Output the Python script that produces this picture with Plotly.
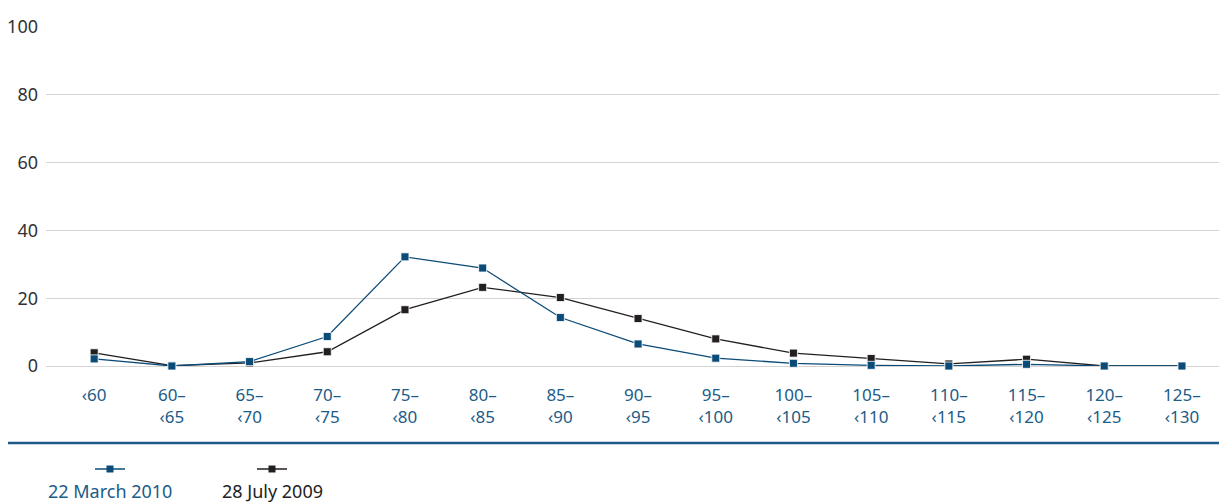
import plotly.graph_objects as go

categories = ["‹60", "60–<br>‹65", "65–<br>‹70", "70–<br>‹75", "75–<br>‹80", "80–<br>‹85",
              "85–<br>‹90", "90–<br>‹95", "95–<br>‹100", "100–<br>‹105", "105–<br>‹110",
              "110–<br>‹115", "115–<br>‹120", "120–<br>‹125", "125–<br>‹130"]
march_2010 = [2.1, 0.0, 1.3, 8.7, 32.2, 28.9, 14.3, 6.5, 2.3, 0.8, 0.2, 0.0, 0.5, 0.0, 0.0]
july_2009 = [3.9, 0.1, 0.9, 4.2, 16.6, 23.2, 20.2, 14.0, 8.0, 3.8, 2.2, 0.6, 2.0, 0.0, 0.0]
y_ticks = [0, 20, 40, 60, 80, 100]

BLUE = "#0b4b78"
BLACK = "#231f20"
TICKBLUE = "#1b5c88"
FONT = "Noto Sans"

x_idx = list(range(len(categories)))

fig = go.Figure()
fig.add_trace(go.Scatter(x=x_idx, y=july_2009, mode="lines+markers", name="28 July 2009",
                         line=dict(color=BLACK, width=1.3),
                         marker=dict(symbol="square", size=8, color=BLACK,
                                     line=dict(color="white", width=0.8)),
                         cliponaxis=False, showlegend=False))
fig.add_trace(go.Scatter(x=x_idx, y=march_2010, mode="lines+markers", name="22 March 2010",
                         line=dict(color=BLUE, width=1.3),
                         marker=dict(symbol="square", size=8, color=BLUE,
                                     line=dict(color="white", width=0.8)),
                         cliponaxis=False, showlegend=False))

# page has an 8px body margin: figure starts at page (8, 8)
OFF = 8
W, H = 1227 - OFF, 502 - OFF
PLOT_X0, PLOT_X1 = 46, 1227      # page px
PLOT_Y0, PLOT_Y1 = 27, 366       # page px (top, bottom)
L = PLOT_X0 - OFF
R = 1227 - PLOT_X1
T = PLOT_Y0 - OFF
B = (OFF + H) - PLOT_Y1
pw, ph = PLOT_X1 - PLOT_X0, PLOT_Y1 - PLOT_Y0

def px(xp):
    return (xp - PLOT_X0) / pw

def py(yp):
    return (PLOT_Y1 - yp) / ph

shapes = [
    dict(type="line", xref="paper", yref="paper", x0=px(5), x1=px(1227), y0=py(443), y1=py(443),
         line=dict(color="#1d5a86", width=2.5)),
]
annotations = []
legend_items = [("22 March 2010", BLUE, TICKBLUE, 110), ("28 July 2009", BLACK, "#222222", 272)]
for label, mcol, tcol, cx in legend_items:
    shapes.append(dict(type="line", xref="paper", yref="paper", x0=px(cx - 15), x1=px(cx + 15),
                       y0=py(469), y1=py(469), line=dict(color=mcol, width=1.5)))
    shapes.append(dict(type="rect", xref="paper", yref="paper", x0=px(cx - 3.5), x1=px(cx + 3.5),
                       y0=py(472.5), y1=py(465.5), line=dict(width=0), fillcolor=mcol))
    annotations.append(dict(text=label, xref="paper", yref="paper", x=px(cx), y=py(491),
                            xanchor="center", yanchor="middle", showarrow=False,
                            font=dict(family=FONT, size=18, color=tcol)))

fig.update_layout(
    width=W, height=H,
    margin=dict(l=L, r=R, t=T, b=B),
    paper_bgcolor="white", plot_bgcolor="white",
    font=dict(family=FONT, size=17, color="#333333"),
    xaxis=dict(tickmode="array", tickvals=x_idx, ticktext=categories, range=[-0.62, 14.58],
               showgrid=False, zeroline=False, showline=False, ticks="",
               tickfont=dict(family=FONT, size=17, color=TICKBLUE), ticklabelstandoff=17),
    yaxis=dict(tickmode="array", tickvals=y_ticks, range=[0, 100], showgrid=True,
               gridcolor="#d4d4d4", gridwidth=1, zeroline=True, zerolinecolor="#d4d4d4",
               zerolinewidth=1, showline=False, ticks="",
               tickfont=dict(family=FONT, size=18, color="#333333"), ticklabelstandoff=7),
    shapes=shapes, annotations=annotations,
    showlegend=False,
)

fig.write_html("out.html")
